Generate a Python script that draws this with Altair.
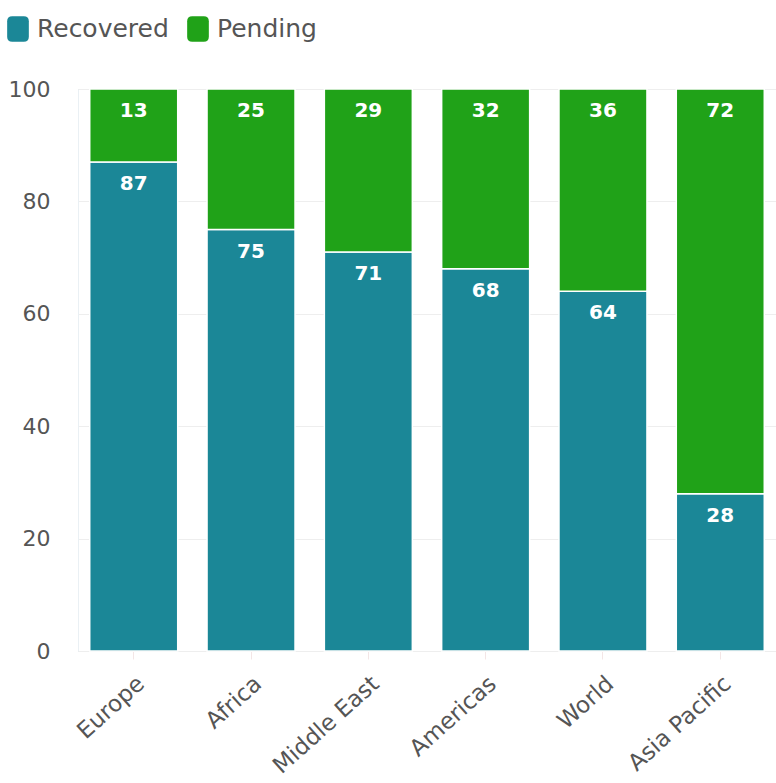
import altair as alt
import pandas as pd

regions = ["Europe", "Africa", "Middle East", "Americas", "World", "Asia Pacific"]
recovered = [87, 75, 71, 68, 64, 28]
pending = [13, 25, 29, 32, 36, 72]
series = ["Recovered", "Pending"]
colors = ["#1b8797", "#20a218"]

rows = []
for r, a, b in zip(regions, recovered, pending):
    rows.append({"region": r, "status": "Recovered", "value": a, "ord": 0})
    rows.append({"region": r, "status": "Pending", "value": b, "ord": 1})
df = pd.DataFrame(rows)

FONT = "DejaVu Sans"
rrect = "M-0.45,-1 L0.45,-1 Q0.85,-1 0.85,-0.6 L0.85,0.6 Q0.85,1 0.45,1 L-0.45,1 Q-0.85,1 -0.85,0.6 L-0.85,-0.6 Q-0.85,-1 -0.45,-1 Z"

base = alt.Chart(df).transform_stack(
    stack="value", groupby=["region"], as_=["v0", "v1"],
    sort=[alt.SortField("ord", order="ascending")]
)

xenc = alt.X("region:N", sort=regions, title=None,
             scale=alt.Scale(paddingInner=0.25, paddingOuter=0.1),
             axis=alt.Axis(labelAngle=-42, labelFontSize=23, labelColor="#555555",
                           labelFont=FONT, domain=False, ticks=True, tickColor="#f3e6e6",
                           tickSize=8, labelPadding=13, grid=False))

bars = base.mark_bar(stroke="white", strokeWidth=1.5).encode(
    x=xenc,
    y=alt.Y("v0:Q", title=None, scale=alt.Scale(domain=[0, 100]),
            axis=alt.Axis(values=[0, 20, 40, 60, 80, 100], labelFontSize=22,
                          labelColor="#555555", labelFont=FONT, gridColor="#eeeeee",
                          domain=True, domainColor="#eaf0f4", ticks=False, labelPadding=28)),
    y2="v1:Q",
    color=alt.Color("status:N", sort=series,
                    scale=alt.Scale(domain=series, range=colors),
                    legend=alt.Legend(title=None, orient="none", legendX=-73, legendY=-73,
                                      direction="horizontal", labelFontSize=25,
                                      labelColor="#555555", labelFont=FONT,
                                      symbolType=rrect, symbolSize=650,
                                      symbolStrokeWidth=0, symbolOpacity=1,
                                      columnPadding=16, labelOffset=6)),
)

labels = base.mark_text(color="white", fontWeight="bold", fontSize=20, font=FONT,
                        baseline="middle", dy=22).encode(
    x=alt.X("region:N", sort=regions),
    y="v1:Q",
    text="value:Q",
)

chart = alt.layer(bars, labels).properties(
    width=698, height=562,
    autosize=alt.AutoSizeParams(type="none"),
    padding={"left": 78, "top": 89, "right": 0, "bottom": 132},
).configure_view(stroke=None).configure(background="white")

chart.save("out.html", embed_options={"renderer": "svg", "actions": False})
